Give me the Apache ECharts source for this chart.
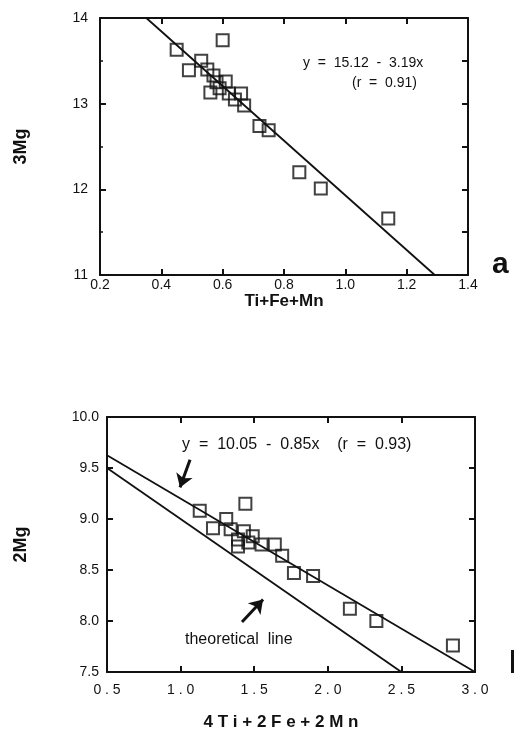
<!DOCTYPE html>
<html>
<head>
<meta charset="utf-8">
<script src="https://cdn.jsdelivr.net/npm/echarts@6/dist/echarts.min.js"></script>
<style>
  html, body { margin: 0; padding: 0; background: #fff; }
  #chart { width: 514px; height: 732px; }
</style>
</head>
<body>
<div id="chart"></div>
<script>
// panel a: 3Mg vs Ti+Fe+Mn
const aX = [0.45, 0.49, 0.53, 0.55, 0.57, 0.60, 0.58, 0.61, 0.56, 0.59, 0.62, 0.64, 0.66, 0.67, 0.72, 0.75, 0.85, 0.92, 1.14];
const aY = [13.63, 13.39, 13.50, 13.40, 13.33, 13.74, 13.25, 13.26, 13.13, 13.18, 13.12, 13.05, 13.12, 12.98, 12.74, 12.69, 12.20, 12.01, 11.66];
const aFit = [15.12, -3.19]; // intercept, slope

// panel b: 2Mg vs 4Ti+2Fe+2Mn
const bX = [1.13, 1.44, 1.31, 1.22, 1.34, 1.43, 1.39, 1.49, 1.39, 1.46, 1.55, 1.64, 1.69, 1.77, 1.90, 2.15, 2.33, 2.85];
const bY = [9.08, 9.15, 9.00, 8.91, 8.90, 8.88, 8.80, 8.83, 8.73, 8.77, 8.75, 8.75, 8.64, 8.47, 8.44, 8.12, 8.00, 7.76];
const bFit = [10.05, -0.85];
const bTheory = [10, -1];
// arrow annotations (tail, head) in data units
const bArrows = [[[1.064, 9.58], [0.996, 9.31]], [[1.417, 7.99], [1.56, 8.21]]];

const aXRange = [0.2, 1.4], aYRange = [11, 14];
const bXRange = [0.5, 3.0], bYRange = [7.5, 10];

const FONT = 'Liberation Sans, Arial, sans-serif';
const INK = '#111';

// clip y = c0 + c1*x to the plotting box
function segment(c, xr, yr) {
  let x0 = xr[0], x1 = xr[1];
  const xa = (yr[1] - c[0]) / c[1], xb = (yr[0] - c[0]) / c[1];
  x0 = Math.max(x0, Math.min(xa, xb));
  x1 = Math.min(x1, Math.max(xa, xb));
  return [[x0, c[0] + c[1] * x0], [x1, c[0] + c[1] * x1]];
}

const spaced = (s, sep) => s.split('').join(sep);

function xAxisOf(grid, r, interval, pos, labels, margin, sep) {
  return {
    type: 'value', gridIndex: grid, position: pos, min: r[0], max: r[1], interval: interval,
    axisLine: { show: true, lineStyle: { color: INK, width: 2 } },
    axisTick: { show: true, inside: true, length: 6, lineStyle: { color: INK, width: 2 } },
    axisLabel: { show: labels, margin: margin, color: INK, fontSize: 14, fontFamily: FONT,
      formatter: v => spaced(v.toFixed(1), sep) },
    splitLine: { show: false }
  };
}

function yAxisOf(grid, r, interval, pos, labels, margin, fmt, minor) {
  return {
    type: 'value', gridIndex: grid, position: pos, min: r[0], max: r[1], interval: interval,
    axisLine: { show: true, lineStyle: { color: INK, width: 2 } },
    axisTick: { show: true, inside: true, length: 6, lineStyle: { color: INK, width: 2 } },
    minorTick: { show: !!minor, splitNumber: 2, length: 3, lineStyle: { color: INK, width: 1.5 } },
    axisLabel: { show: labels, margin: margin, color: INK, fontSize: 14, fontFamily: FONT, formatter: fmt },
    splitLine: { show: false }
  };
}

const square = {
  type: 'scatter', symbol: 'rect', symbolSize: 12, z: 3,
  itemStyle: { color: 'transparent', borderColor: INK, borderWidth: 2 }
};
const lineStyle = { color: INK, width: 1.8 };

const chart = echarts.init(document.getElementById('chart'));

chart.setOption({
  animation: false,
  backgroundColor: '#fff',
  grid: [
    { left: 100, top: 18, width: 368, height: 257 },
    { left: 107, top: 417, width: 368, height: 256 }
  ],
  xAxis: [
    Object.assign(xAxisOf(0, aXRange, 0.2, 'bottom', true, 3, ''), {
      name: 'Ti+Fe+Mn', nameLocation: 'middle', nameGap: 18,
      nameTextStyle: { fontSize: 17, fontWeight: 'bold', fontFamily: FONT, color: INK }
    }),
    xAxisOf(0, aXRange, 0.2, 'top', false, 3, ''),
    Object.assign(xAxisOf(1, bXRange, 0.5, 'bottom', true, 11, ' '), {
      name: spaced('4Ti+2Fe+2Mn', ' '), nameLocation: 'middle', nameGap: 42,
      nameTextStyle: { fontSize: 17, fontWeight: 'bold', fontFamily: FONT, color: INK, padding: [0, 20, 0, 0] }
    }),
    xAxisOf(1, bXRange, 0.5, 'top', false, 3, '')
  ],
  yAxis: [
    Object.assign(yAxisOf(0, aYRange, 1, 'left', true, 12, v => String(v), true), {
      name: '3Mg', nameLocation: 'middle', nameGap: 70,
      nameTextStyle: { fontSize: 18, fontWeight: 'bold', fontFamily: FONT, color: INK }
    }),
    yAxisOf(0, aYRange, 0.5, 'right', false, 3, v => v, false),
    Object.assign(yAxisOf(1, bYRange, 0.5, 'left', true, 8, v => v.toFixed(1), false), {
      name: '2Mg', nameLocation: 'middle', nameGap: 77,
      nameTextStyle: { fontSize: 18, fontWeight: 'bold', fontFamily: FONT, color: INK }
    }),
    yAxisOf(1, bYRange, 0.5, 'right', false, 3, v => v, false)
  ],
  series: [
    Object.assign({}, square, { xAxisIndex: 0, yAxisIndex: 0, data: aX.map((x, i) => [x, aY[i]]) }),
    { type: 'line', xAxisIndex: 0, yAxisIndex: 0, showSymbol: false, lineStyle: lineStyle,
      data: segment(aFit, aXRange, aYRange) },
    Object.assign({}, square, { xAxisIndex: 2, yAxisIndex: 2, data: bX.map((x, i) => [x, bY[i]]) }),
    { type: 'line', xAxisIndex: 2, yAxisIndex: 2, showSymbol: false, lineStyle: lineStyle,
      data: segment(bFit, bXRange, bYRange) },
    { type: 'line', xAxisIndex: 2, yAxisIndex: 2, showSymbol: false, lineStyle: lineStyle,
      data: segment(bTheory, bXRange, bYRange),
      markLine: {
        silent: true, symbol: ['none', 'arrow'], symbolSize: 13,
        lineStyle: { color: INK, width: 3, type: 'solid' }, label: { show: false },
        data: bArrows.map(a => [{ coord: a[0] }, { coord: a[1] }])
      } }
  ],
  graphic: [
    { type: 'text', left: 303, top: 56, style: { text: 'y  =  15.12  -  3.19x', font: '14px ' + FONT, fill: INK } },
    { type: 'text', left: 352, top: 76, style: { text: '(r  =  0.91)', font: '14px ' + FONT, fill: INK } },
    { type: 'text', left: 182, top: 437, style: { text: 'y  =  10.05  -  0.85x    (r  =  0.93)', font: '16px ' + FONT, fill: INK } },
    { type: 'text', left: 185, top: 632, style: { text: 'theoretical  line', font: '16px ' + FONT, fill: INK } },
    { type: 'text', left: 492, top: 250, style: { text: 'a', font: 'bold 30px ' + FONT, fill: INK } },
    { type: 'rect', left: 511, top: 650, shape: { width: 3, height: 23 }, style: { fill: INK } }
  ]
});
</script>
</body>
</html>
